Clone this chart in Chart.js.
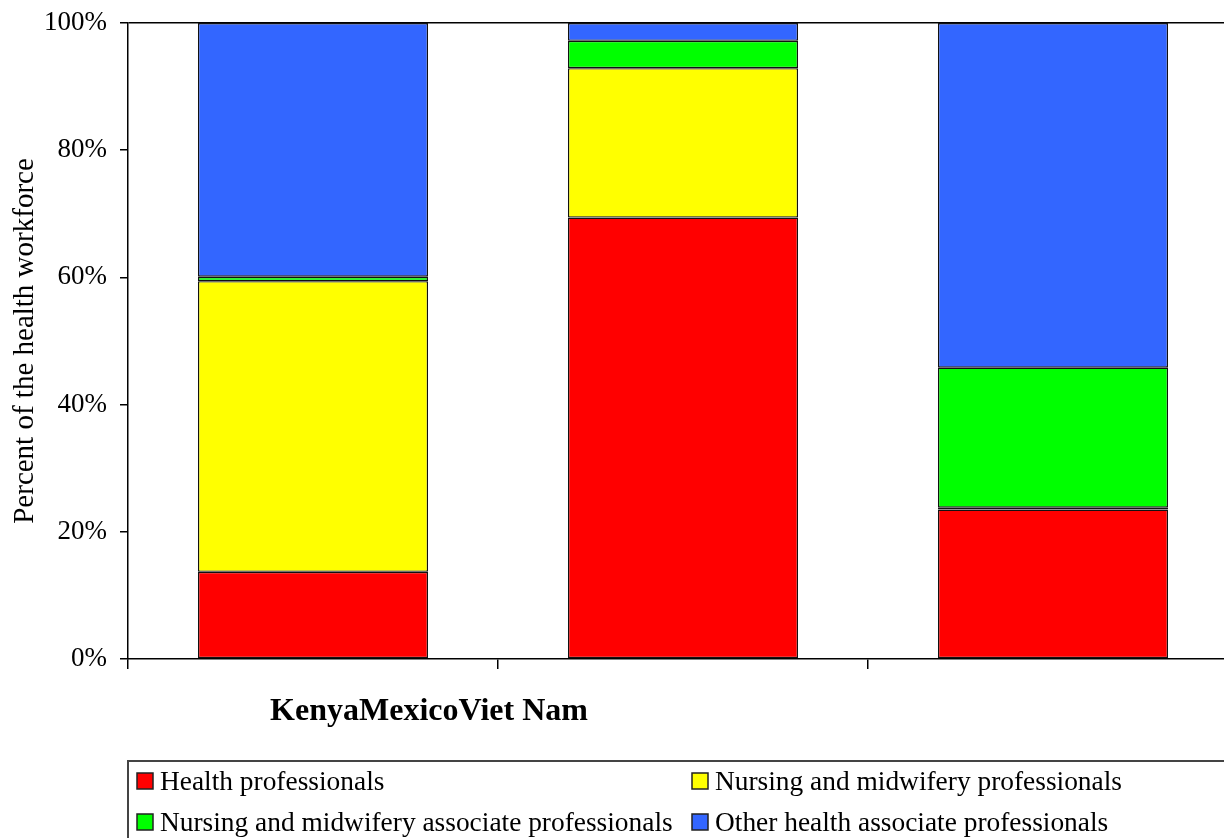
<!DOCTYPE html>
<html>
<head>
<meta charset="utf-8">
<script src="https://cdn.jsdelivr.net/npm/chart.js@4.4.1/dist/chart.umd.min.js"></script>
<style>
  html, body { margin: 0; padding: 0; background: #fff; overflow: hidden; }
  canvas { display: block; }
</style>
</head>
<body>
<canvas id="grafico" width="1240" height="838"></canvas>
<script>
// Datos (porcentaje de la fuerza laboral sanitaria)
const categorias = ['Kenya', 'Mexico', 'Viet Nam'];
const profesionalesSalud = [13.7, 69.4, 23.5];
const enfermeriaProfesionales = [45.7, 23.5, 0.3];
const enfermeriaAsociados = [0.7, 4.3, 22.0];
const otrosAsociados = [39.9, 2.8, 54.2];
const nombresSeries = [
    'Health professionals',
    'Nursing and midwifery professionals',
    'Nursing and midwifery associate professionals',
    'Other health associate professionals'
];
const coloresSeries = ['#FF0000', '#FFFF00', '#00FF00', '#3366FF'];
const ticksY = [0, 20, 40, 60, 80, 100];

const fuente = '"Liberation Serif", "Times New Roman", serif';

// Leyenda en dos columnas dentro de un recuadro, como en el original
const leyendaRecuadro = {
    id: 'leyendaRecuadro',
    afterDraw(chart) {
        const ctx = chart.ctx;
        const izq = chart.chartArea.left;
        ctx.save();
        ctx.strokeStyle = '#444';
        ctx.lineWidth = 2;
        ctx.strokeRect(izq, 761, chart.width, 120);
        ctx.font = '27.4px ' + fuente;
        ctx.fillStyle = '#000';
        ctx.textBaseline = 'alphabetic';
        const columnas = [izq + 9, izq + 564];
        const filas = [773, 814];
        chart.data.datasets.forEach(function (ds, i) {
            const x = columnas[i % 2];
            const y = filas[Math.floor(i / 2)];
            ctx.fillStyle = ds.backgroundColor;
            ctx.fillRect(x, y, 16, 16);
            ctx.strokeStyle = '#222';
            ctx.lineWidth = 1.5;
            ctx.strokeRect(x, y, 16, 16);
            ctx.fillStyle = '#000';
            ctx.fillText(ds.label, x + 23, y + 17);
        });
        // Etiquetas del eje X pegadas, tal y como aparecen
        ctx.font = 'bold 32px ' + fuente;
        ctx.textAlign = 'center';
        ctx.fillText(chart.data.labels.join(''), izq + 301, 720);
        ctx.restore();
    }
};

const ctx = document.getElementById('grafico').getContext('2d');
new Chart(ctx, {
    type: 'bar',
    data: {
        labels: categorias,
        datasets: [profesionalesSalud, enfermeriaProfesionales, enfermeriaAsociados, otrosAsociados].map(function (valores, i) {
            return {
                label: nombresSeries[i],
                data: valores,
                backgroundColor: coloresSeries[i],
                borderColor: '#111',
                borderWidth: 1.4,
                borderSkipped: false,
                barPercentage: 1,
                categoryPercentage: 0.622
            };
        })
    },
    options: {
        responsive: false,
        animation: false,
        devicePixelRatio: 1,
        layout: { padding: { top: 23, right: 2, left: 0, bottom: 0 } },
        plugins: {
            legend: { display: false },
            tooltip: { enabled: false }
        },
        scales: {
            x: {
                stacked: true,
                afterFit: function (scale) { scale.height = 179; },
                grid: {
                    offset: true,
                    drawOnChartArea: false,
                    tickLength: 10,
                    color: '#000',
                    lineWidth: 1.5
                },
                border: { display: true, color: '#000', width: 1.5 },
                ticks: { display: false }
            },
            y: {
                stacked: true,
                min: 0,
                max: 100,
                afterFit: function (scale) {
                    scale.width = 128;
                    scale.paddingTop = 0;
                    scale.paddingBottom = 0;
                },
                afterBuildTicks: function (scale) {
                    scale.ticks = ticksY.map(function (v) { return { value: v }; });
                },
                grid: {
                    color: function (c) { return c.tick && c.tick.value === 100 ? '#000' : 'rgba(0,0,0,0)'; },
                    tickColor: '#000',
                    tickLength: 8,
                    lineWidth: 1.5
                },
                border: { display: true, color: '#000', width: 1.5 },
                ticks: {
                    padding: 13,
                    color: '#000',
                    font: { family: fuente, size: 27 },
                    callback: function (v) { return v + '%'; }
                },
                title: {
                    display: true,
                    text: 'Percent of the health workforce',
                    color: '#000',
                    font: { family: fuente, size: 29 },
                    padding: { top: 8, bottom: 0 }
                }
            }
        }
    },
    plugins: [leyendaRecuadro]
});
</script>
</body>
</html>
